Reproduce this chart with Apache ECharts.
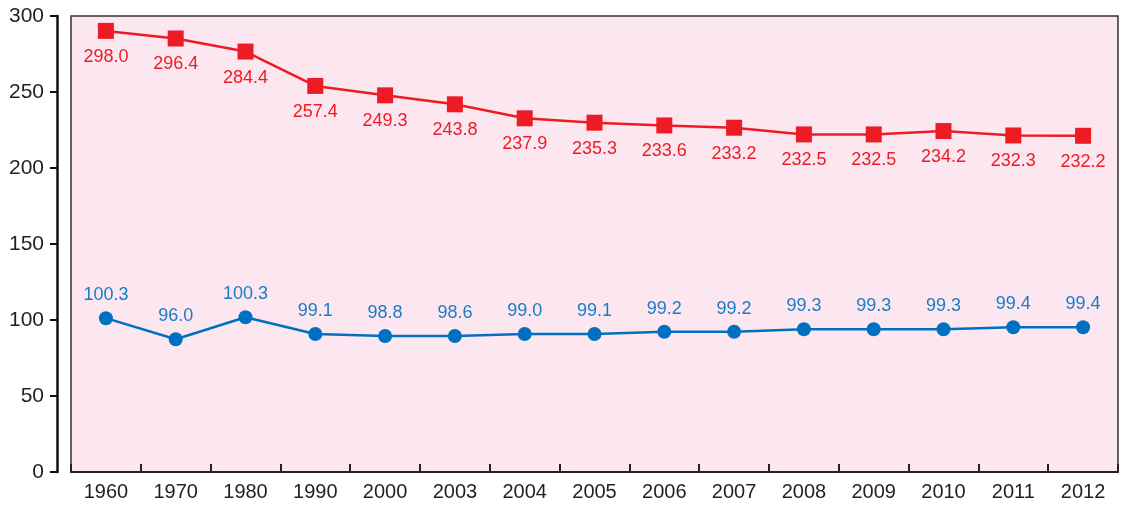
<!DOCTYPE html>
<html>
<head>
<meta charset="utf-8">
<script src="https://cdn.jsdelivr.net/npm/echarts@6/dist/echarts.min.js"></script>
<style>html,body{margin:0;padding:0;background:#fff}#c{width:1125px;height:505px}</style>
</head>
<body>
<div id="c"></div>
<script>
var categories = ['1960','1970','1980','1990','2000','2003','2004','2005','2006','2007','2008','2009','2010','2011','2012'];
var redValues = [290.2, 285.2, 276.6, 254.0, 247.8, 241.9, 232.7, 229.8, 228.0, 226.5, 222.1, 222.1, 224.3, 221.4, 221.2];
var redLabels = ['298.0','296.4','284.4','257.4','249.3','243.8','237.9','235.3','233.6','233.2','232.5','232.5','234.2','232.3','232.2'];
var blueValues = [101.2, 87.3, 101.8, 90.8, 89.5, 89.5, 90.8, 90.8, 92.3, 92.3, 93.9, 93.9, 93.9, 95.2, 95.2];
var blueLabels = ['100.3','96.0','100.3','99.1','98.8','98.6','99.0','99.1','99.2','99.2','99.3','99.3','99.3','99.4','99.4'];
var yTicks = [0, 50, 100, 150, 200, 250, 300];

var FONT = '"Liberation Sans", Arial, sans-serif';
var chart = echarts.init(document.getElementById('c'), null, {renderer: 'canvas'});
chart.setOption({
  animation: false,
  grid: {
    left: 71, right: 7, top: 16, bottom: 33,
    show: true, backgroundColor: '#fce7f1', borderColor: '#333', borderWidth: 1.5
  },
  xAxis: {
    type: 'category', data: categories, boundaryGap: true,
    axisLine: {lineStyle: {color: '#222', width: 2}},
    axisTick: {show: true, inside: true, length: 8, lineStyle: {color: '#222', width: 2}},
    axisLabel: {color: '#231f20', fontSize: 20, fontFamily: FONT, margin: 10}
  },
  yAxis: {
    type: 'value', min: yTicks[0], max: yTicks[yTicks.length - 1], interval: 50,
    offset: 14,
    splitLine: {show: false},
    axisLine: {show: true, lineStyle: {color: '#111', width: 2.5}},
    axisTick: {show: true, length: 7, lineStyle: {color: '#111', width: 2}},
    axisLabel: {color: '#231f20', fontSize: 21, fontFamily: FONT, margin: 13}
  },
  series: [
    {
      type: 'line', data: redValues, symbol: 'rect', symbolSize: 16,
      lineStyle: {color: '#ed1c24', width: 2.5},
      itemStyle: {color: '#ed1c24'},
      label: {
        show: true, position: 'bottom', distance: 9,
        color: '#ed1c24', fontSize: 18, fontFamily: FONT,
        formatter: function (p) { return redLabels[p.dataIndex]; }
      }
    },
    {
      type: 'line', data: blueValues, symbol: 'circle', symbolSize: 14,
      lineStyle: {color: '#0070c0', width: 2.5},
      itemStyle: {color: '#0070c0'},
      label: {
        show: true, position: 'top', distance: 7,
        color: '#1a7cc4', fontSize: 18, fontFamily: FONT,
        formatter: function (p) { return blueLabels[p.dataIndex]; }
      }
    }
  ]
});
</script>
</body>
</html>
